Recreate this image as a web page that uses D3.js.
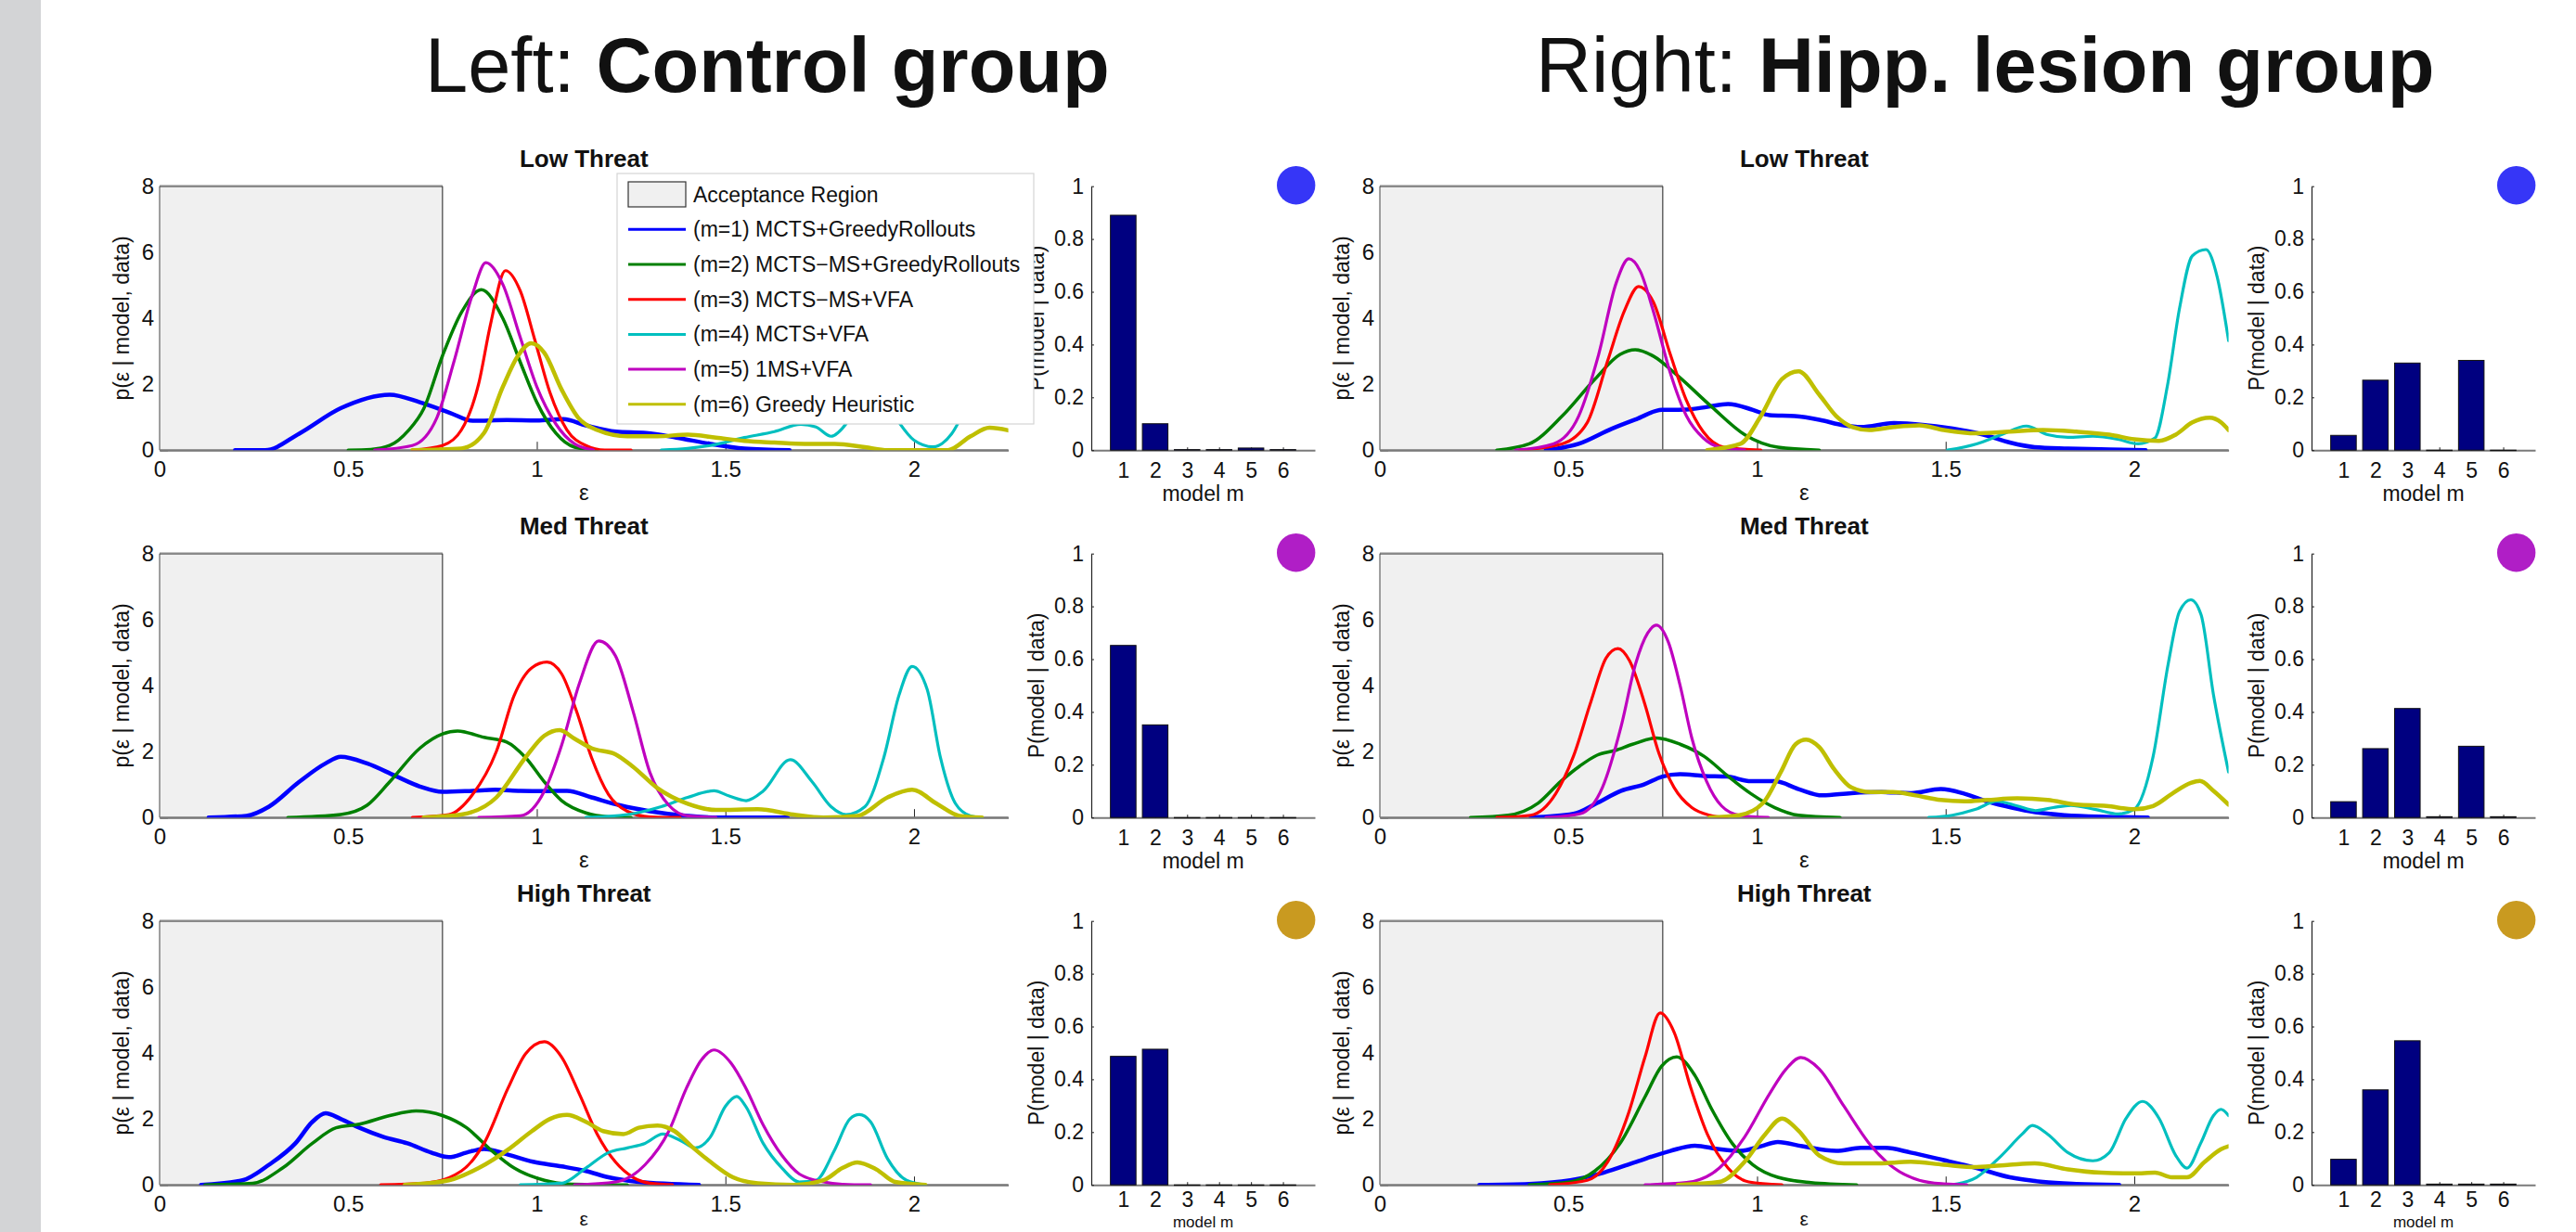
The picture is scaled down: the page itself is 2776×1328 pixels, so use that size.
<!DOCTYPE html>
<html>
<head>
<meta charset="utf-8">
<script src="https://cdn.jsdelivr.net/npm/d3@7"></script>
<style>
  body { margin: 0; background: #fff; }
  svg { display: block; }
  text { font-family: "Liberation Sans", Arial, sans-serif; fill: #111; }
</style>
</head>
<body>
<svg id="chart"></svg>
<script>
// ---- data ----
const groupNames = ["Control group", "Hipp. lesion group"];
const groupPrefix = ["Left: ", "Right: "];
const threats = ["Low Threat", "Med Threat", "High Threat"];
const modelNames = [
    "(m=1) MCTS+GreedyRollouts",
    "(m=2) MCTS\u2212MS+GreedyRollouts",
    "(m=3) MCTS\u2212MS+VFA",
    "(m=4) MCTS+VFA",
    "(m=5) 1MS+VFA",
    "(m=6) Greedy Heuristic"
];
const modelIds = [1, 2, 3, 4, 5, 6];
const epsTicks = [0, 0.5, 1, 1.5, 2];
const densTicks = [0, 2, 4, 6, 8];
const probTicks = [0, 0.2, 0.4, 0.6, 0.8, 1];
const acceptanceMax = 0.75;

// P(model | data), rows = low / med / high threat
const postControl = [
    [0.89, 0.10, 0.002, 0.002, 0.008, 0.002],
    [0.652, 0.351, 0, 0, 0, 0],
    [0.487, 0.514, 0, 0, 0, 0]
];
const postLesion = [
    [0.056, 0.265, 0.33, 0, 0.34, 0],
    [0.06, 0.261, 0.413, 0.003, 0.27, 0.003],
    [0.097, 0.36, 0.546, 0.003, 0.003, 0.003]
];

// p(eps | model, data) curves, one list of [eps, p] per model (m=1..6)
const controlLow = [
    [[0.2,0],[0.28,0],[0.37,0.5],[0.48,1.27],[0.61,1.68],[0.69,1.45],[0.77,1.13],[0.83,0.89],[0.92,0.91],[1.0,0.9],[1.07,0.94],[1.13,0.75],[1.21,0.56],[1.29,0.52],[1.37,0.38],[1.46,0.19],[1.55,0.05],[1.67,0]],
    [[0.5,0],[0.56,0.02],[0.61,0.14],[0.66,0.6],[0.7,1.25],[0.75,2.86],[0.8,4.17],[0.853,4.86],[0.91,3.99],[0.956,2.67],[1.0,1.45],[1.05,0.52],[1.1,0.09],[1.16,0]],
    [[0.67,0],[0.75,0.14],[0.8,0.61],[0.846,2.02],[0.877,3.8],[0.917,5.44],[0.956,4.83],[0.995,3.33],[1.035,1.74],[1.08,0.61],[1.13,0.14],[1.18,0],[1.25,0]],
    [[1.33,0],[1.4,0.05],[1.46,0.14],[1.55,0.38],[1.63,0.56],[1.7,0.78],[1.74,0.7],[1.78,0.42],[1.82,0.8],[1.88,2.2],[1.95,1.0],[2.0,0.3],[2.05,0.1],[2.1,0.5],[2.15,1.6],[2.2,2.8],[2.25,2.6]],
    [[0.57,0],[0.67,0.14],[0.735,0.98],[0.78,2.67],[0.83,4.74],[0.865,5.68],[0.91,5.02],[0.956,3.42],[1.0,1.92],[1.05,0.8],[1.1,0.19],[1.15,0]],
    [[0.67,0],[0.8,0.05],[0.86,0.52],[0.91,1.92],[0.95,2.86],[0.985,3.24],[1.02,2.95],[1.066,1.83],[1.11,0.98],[1.16,0.61],[1.24,0.42],[1.32,0.42],[1.4,0.47],[1.475,0.38],[1.55,0.28],[1.63,0.23],[1.71,0.19],[1.79,0.19],[1.87,0.09],[1.93,0],[2.09,0],[2.15,0.42],[2.2,0.68],[2.25,0.6]]
];
const controlMed = [
    [[0.13,0],[0.23,0.05],[0.29,0.33],[0.37,1.08],[0.44,1.64],[0.48,1.84],[0.55,1.64],[0.625,1.26],[0.69,0.94],[0.75,0.78],[0.83,0.81],[0.89,0.84],[0.956,0.81],[1.02,0.8],[1.08,0.81],[1.145,0.61],[1.22,0.37],[1.3,0.19],[1.4,0.05],[1.475,0],[1.665,0]],
    [[0.34,0],[0.48,0.09],[0.55,0.37],[0.61,1.08],[0.69,2.1],[0.75,2.53],[0.79,2.62],[0.86,2.43],[0.92,2.29],[0.97,1.82],[1.02,1.08],[1.066,0.51],[1.13,0.14],[1.19,0.02],[1.25,0]],
    [[0.67,0],[0.767,0.09],[0.83,0.7],[0.893,2.01],[0.94,3.7],[0.987,4.54],[1.027,4.71],[1.066,4.35],[1.105,3.23],[1.145,1.82],[1.19,0.7],[1.24,0.19],[1.3,0.02],[1.38,0]],
    [[1.13,0],[1.24,0.09],[1.33,0.33],[1.4,0.61],[1.47,0.81],[1.51,0.65],[1.555,0.51],[1.6,0.8],[1.672,1.75],[1.73,1.08],[1.78,0.33],[1.82,0.09],[1.87,0.33],[1.92,1.82],[1.96,3.7],[1.995,4.58],[2.035,3.88],[2.07,1.82],[2.11,0.42],[2.15,0.05],[2.18,0]],
    [[0.846,0],[0.956,0.05],[1.02,0.8],[1.066,2.2],[1.113,4.07],[1.164,5.35],[1.208,4.91],[1.255,3.23],[1.3,1.36],[1.35,0.37],[1.4,0.05],[1.475,0]],
    [[0.7,0],[0.8,0.09],[0.893,0.61],[0.97,1.82],[1.02,2.48],[1.06,2.65],[1.1,2.39],[1.145,2.1],[1.208,1.92],[1.255,1.54],[1.32,0.89],[1.4,0.42],[1.475,0.23],[1.586,0.25],[1.68,0.09],[1.76,0],[1.85,0.05],[1.93,0.61],[1.995,0.84],[2.06,0.42],[2.12,0.05],[2.18,0]]
];
const controlHigh = [
    [[0.11,0],[0.22,0.14],[0.29,0.61],[0.36,1.26],[0.405,1.91],[0.44,2.17],[0.48,2.0],[0.53,1.73],[0.594,1.45],[0.657,1.26],[0.72,0.98],[0.767,0.84],[0.814,0.98],[0.86,1.09],[0.92,0.93],[0.99,0.7],[1.066,0.56],[1.13,0.42],[1.19,0.23],[1.27,0.09],[1.43,0]],
    [[0.12,0],[0.247,0.05],[0.326,0.51],[0.405,1.26],[0.468,1.73],[0.53,1.84],[0.61,2.1],[0.68,2.24],[0.75,2.1],[0.814,1.73],[0.877,1.07],[0.94,0.51],[1.02,0.14],[1.08,0.03],[1.24,0]],
    [[0.586,0],[0.704,0.05],[0.8,0.42],[0.86,1.26],[0.924,2.94],[0.97,3.97],[1.02,4.34],[1.066,3.87],[1.113,2.75],[1.16,1.54],[1.208,0.7],[1.255,0.23],[1.3,0.05],[1.36,0]],
    [[0.956,0],[1.066,0.05],[1.13,0.51],[1.19,0.98],[1.24,1.12],[1.287,1.26],[1.334,1.54],[1.38,1.35],[1.42,1.12],[1.46,1.45],[1.5,2.38],[1.53,2.68],[1.554,2.38],[1.6,1.26],[1.65,0.51],[1.696,0.09],[1.74,0.14],[1.79,1.07],[1.83,2.0],[1.855,2.13],[1.885,1.91],[1.93,0.79],[1.98,0.14],[2.03,0]],
    [[1.1,0],[1.21,0.09],[1.287,0.61],[1.35,1.63],[1.397,2.94],[1.436,3.78],[1.47,4.09],[1.515,3.69],[1.554,2.94],[1.6,1.82],[1.65,0.89],[1.696,0.33],[1.76,0.09],[1.81,0.02],[1.885,0]],
    [[0.65,0],[0.767,0.14],[0.846,0.51],[0.924,1.07],[0.987,1.63],[1.035,2.0],[1.08,2.12],[1.13,1.91],[1.176,1.63],[1.23,1.54],[1.27,1.73],[1.32,1.8],[1.365,1.63],[1.41,1.17],[1.46,0.7],[1.52,0.23],[1.586,0.05],[1.68,0],[1.76,0.14],[1.81,0.51],[1.85,0.68],[1.9,0.47],[1.95,0.09],[2.03,0]]
];
const lesionLow = [
    [[0.44,0],[0.527,0.19],[0.615,0.65],[0.68,0.94],[0.747,1.22],[0.813,1.23],[0.868,1.31],[0.923,1.4],[0.989,1.22],[1.033,1.06],[1.1,1.03],[1.165,0.92],[1.23,0.75],[1.275,0.7],[1.363,0.82],[1.45,0.75],[1.54,0.61],[1.6,0.47],[1.67,0.23],[1.736,0.09],[1.824,0.05],[1.934,0.02],[2.03,0]],
    [[0.31,0],[0.396,0.19],[0.483,1.03],[0.57,2.15],[0.637,2.9],[0.677,3.04],[0.725,2.85],[0.79,2.25],[0.88,1.31],[0.967,0.47],[1.055,0.09],[1.165,0]],
    [[0.37,0],[0.483,0.19],[0.55,0.84],[0.604,2.71],[0.648,4.21],[0.686,4.96],[0.725,4.49],[0.77,2.9],[0.813,1.5],[0.857,0.56],[0.912,0.09],[1.01,0]],
    [[1.505,0],[1.582,0.19],[1.648,0.47],[1.714,0.73],[1.77,0.47],[1.824,0.39],[1.89,0.42],[1.956,0.33],[2.01,0.19],[2.055,0.37],[2.088,1.96],[2.12,4.3],[2.154,5.89],[2.19,6.08],[2.22,5.24],[2.25,3.32]],
    [[0.36,0],[0.46,0.19],[0.527,1.03],[0.58,2.9],[0.626,5.05],[0.66,5.8],[0.69,5.43],[0.725,4.21],[0.77,2.34],[0.813,1.03],[0.857,0.37],[0.9,0.09],[0.967,0]],
    [[0.868,0],[0.956,0.19],[1.01,1.03],[1.066,2.15],[1.11,2.39],[1.165,1.68],[1.21,1.03],[1.253,0.7],[1.297,0.61],[1.363,0.7],[1.43,0.75],[1.495,0.61],[1.58,0.51],[1.67,0.56],[1.758,0.61],[1.846,0.56],[1.934,0.47],[2.0,0.33],[2.066,0.28],[2.11,0.47],[2.154,0.84],[2.2,0.98],[2.23,0.84],[2.25,0.61]]
];
const lesionMed = [
    [[0.4,0],[0.513,0.11],[0.576,0.44],[0.64,0.81],[0.7,1.0],[0.749,1.24],[0.796,1.31],[0.86,1.26],[0.92,1.24],[0.984,1.1],[1.047,1.1],[1.11,0.86],[1.173,0.67],[1.25,0.74],[1.33,0.77],[1.408,0.74],[1.487,0.86],[1.55,0.72],[1.61,0.49],[1.675,0.3],[1.738,0.16],[1.816,0.07],[1.926,0.02],[2.036,0]],
    [[0.24,0],[0.34,0.07],[0.42,0.44],[0.48,1.1],[0.53,1.56],[0.576,1.89],[0.623,2.03],[0.67,2.22],[0.733,2.41],[0.796,2.22],[0.86,1.85],[0.92,1.28],[0.984,0.72],[1.047,0.3],[1.11,0.07],[1.22,0]],
    [[0.31,0],[0.4,0.07],[0.466,0.72],[0.513,1.85],[0.56,3.53],[0.6,4.84],[0.631,5.12],[0.662,4.75],[0.7,3.53],[0.74,1.94],[0.78,0.91],[0.827,0.3],[0.874,0.07],[0.92,0]],
    [[1.455,0],[1.518,0.07],[1.58,0.25],[1.636,0.49],[1.69,0.35],[1.738,0.21],[1.785,0.3],[1.832,0.37],[1.895,0.25],[1.958,0.11],[2.0,0.25],[2.05,1.85],[2.09,4.66],[2.12,6.25],[2.15,6.6],[2.177,6.15],[2.21,3.72],[2.25,1.38]],
    [[0.44,0],[0.53,0.11],[0.59,0.91],[0.64,2.78],[0.678,4.66],[0.71,5.59],[0.733,5.83],[0.765,5.31],[0.796,4.0],[0.827,2.41],[0.866,1.1],[0.906,0.35],[0.953,0.07],[1.03,0]],
    [[0.874,0],[0.953,0.07],[1.016,0.44],[1.063,1.38],[1.102,2.22],[1.13,2.36],[1.165,2.13],[1.204,1.47],[1.25,0.91],[1.3,0.77],[1.36,0.77],[1.42,0.67],[1.487,0.53],[1.55,0.49],[1.61,0.53],[1.69,0.58],[1.77,0.53],[1.848,0.39],[1.926,0.35],[2.0,0.25],[2.05,0.35],[2.1,0.72],[2.15,1.05],[2.174,1.11],[2.21,0.81],[2.25,0.39]]
];
const lesionHigh = [
    [[0.264,0],[0.396,0.03],[0.505,0.14],[0.593,0.37],[0.68,0.7],[0.77,1.03],[0.835,1.19],[0.9,1.08],[0.956,1.03],[1.01,1.17],[1.055,1.3],[1.12,1.17],[1.21,1.03],[1.275,1.12],[1.34,1.12],[1.407,0.98],[1.495,0.75],[1.582,0.51],[1.67,0.23],[1.758,0.09],[1.846,0.03],[1.96,0]],
    [[0.396,0],[0.505,0.09],[0.57,0.42],[0.637,1.26],[0.703,2.67],[0.747,3.6],[0.787,3.88],[0.835,3.32],[0.88,2.29],[0.934,1.26],[0.989,0.61],[1.055,0.23],[1.143,0.07],[1.264,0]],
    [[0.45,0],[0.55,0.14],[0.604,0.7],[0.66,2.2],[0.703,3.88],[0.743,5.21],[0.78,4.63],[0.824,2.95],[0.868,1.54],[0.923,0.51],[0.978,0.09],[1.066,0]],
    [[1.516,0],[1.582,0.23],[1.648,0.89],[1.703,1.54],[1.73,1.8],[1.77,1.54],[1.824,0.98],[1.89,0.73],[1.934,0.98],[1.978,2.01],[2.022,2.53],[2.066,2.01],[2.11,0.89],[2.14,0.51],[2.176,1.26],[2.21,2.1],[2.23,2.29],[2.25,2.1]],
    [[0.703,0],[0.813,0.07],[0.9,0.51],[0.967,1.45],[1.033,2.76],[1.077,3.51],[1.116,3.86],[1.165,3.51],[1.23,2.39],[1.297,1.26],[1.363,0.51],[1.43,0.14],[1.495,0.03],[1.556,0]],
    [[0.79,0],[0.9,0.09],[0.967,0.7],[1.022,1.54],[1.066,2.01],[1.11,1.64],[1.165,0.89],[1.23,0.65],[1.32,0.65],[1.407,0.7],[1.495,0.61],[1.582,0.54],[1.67,0.61],[1.736,0.65],[1.824,0.47],[1.912,0.37],[2.0,0.35],[2.055,0.37],[2.1,0.23],[2.14,0.23],[2.187,0.7],[2.23,1.08],[2.25,1.17]]
];

const densityByGroup = [
    [controlLow, controlMed, controlHigh],
    [lesionLow, lesionMed, lesionHigh]
];
const posteriorByGroup = [postControl, postLesion];

// ---- styles ----
const modelColors = ["#0000ff", "#008000", "#ff0000", "#00bfbf", "#bf00bf", "#bfbf00"];
const lineWidths = [4.5, 3.5, 3.2, 3.2, 3.2, 4.5];
const threatColors = ["#3636f7", "#b01ec6", "#c99a20"];

// ---- layout ----
const width = 2776;
const height = 1328;
const groupShift = 1315;
const rowTops = [200.7, 596.7, 992.7];
const plotH = 284.5;
const densLeft = 172;
const densW = 914.6;
const barLeft = 1176;
const barW = 241;

const svg = d3.select("#chart")
    .attr("width", width)
    .attr("height", height);

svg.append("rect")
    .attr("x", 0).attr("y", 0)
    .attr("width", 44).attr("height", height)
    .attr("fill", "#d3d4d6");

const xEps = d3.scaleLinear().domain([0, 2.25]).range([0, densW]);
const yDens = d3.scaleLinear().domain([0, 8]).range([plotH, 0]);
const xModel = d3.scaleLinear().domain([0, 7]).range([0, barW]);
const yProb = d3.scaleLinear().domain([0, 1]).range([plotH, 0]);

const line = d3.line()
    .x(d => xEps(d[0]))
    .y(d => yDens(d[1]))
    .curve(d3.curveMonotoneX);

function styleAxis(ax, fontSize) {
    ax.select(".domain").attr("stroke", "#7a7a7a").attr("stroke-width", 2);
    ax.selectAll(".tick line").attr("stroke", "#222").attr("stroke-width", 1);
    ax.selectAll(".tick text")
        .attr("fill", "#111")
        .attr("font-size", fontSize)
        .attr("font-family", "Liberation Sans, Arial, sans-serif");
}

// the last row sits right at the picture's bottom edge, so its x labels are
// pulled up a little to stay inside
function isLastRow(top) {
    return top === rowTops[rowTops.length - 1];
}
function labelY(top, offset, margin) {
    return Math.min(plotH + offset, height - margin - top);
}

function drawDensity(g, curves, title, idx, top) {
    const clipId = "clip" + idx;
    g.append("clipPath").attr("id", clipId)
        .append("rect")
        .attr("x", 0).attr("y", -4)
        .attr("width", densW).attr("height", plotH + 4);

    const xa = g.append("g")
        .attr("transform", `translate(0,${plotH})`)
        .call(d3.axisBottom(xEps).tickValues(epsTicks).tickFormat(d3.format("")).tickSizeInner(-9).tickSizeOuter(0).tickPadding(12));
    styleAxis(xa, 24);

    const ya = g.append("g")
        .call(d3.axisLeft(yDens).tickValues(densTicks).tickSizeInner(-9).tickSizeOuter(0).tickPadding(6));
    styleAxis(ya, 24);
    ya.select(".domain").attr("stroke", "#333").attr("stroke-width", 1);

    // acceptance region
    const ax0 = xEps(0), ax1 = xEps(acceptanceMax);
    g.append("rect")
        .attr("x", ax0).attr("y", yDens(8))
        .attr("width", ax1 - ax0).attr("height", yDens(0) - yDens(8))
        .attr("fill", "#f0f0f0");
    g.append("line")
        .attr("x1", ax0).attr("x2", ax1)
        .attr("y1", yDens(8)).attr("y2", yDens(8))
        .attr("stroke", "#8a8a8a").attr("stroke-width", 2.5);
    g.append("line")
        .attr("x1", ax1).attr("x2", ax1)
        .attr("y1", yDens(8)).attr("y2", yDens(0))
        .attr("stroke", "#1a1a1a").attr("stroke-width", 1);
    g.append("line")
        .attr("x1", ax0).attr("x2", ax0)
        .attr("y1", yDens(8)).attr("y2", yDens(0))
        .attr("stroke", "#444").attr("stroke-width", 1);
    g.append("line")
        .attr("x1", ax0).attr("x2", densW)
        .attr("y1", yDens(0)).attr("y2", yDens(0))
        .attr("stroke", "#7a7a7a").attr("stroke-width", 2);

    g.append("g").attr("clip-path", `url(#${clipId})`)
        .selectAll("path")
        .data(curves)
        .enter().append("path")
        .attr("d", d => line(d))
        .attr("fill", "none")
        .attr("stroke", (d, i) => modelColors[i])
        .attr("stroke-width", (d, i) => lineWidths[i])
        .attr("stroke-linejoin", "round")
        .attr("stroke-linecap", "round");

    g.append("text")
        .attr("x", densW / 2).attr("y", -21)
        .attr("text-anchor", "middle")
        .attr("font-size", 26).attr("font-weight", "bold")
        .text(title);

    g.append("text")
        .attr("x", densW / 2).attr("y", labelY(top, 54, 7))
        .attr("text-anchor", "middle")
        .attr("font-size", isLastRow(top) ? 21 : 24)
        .text("\u03b5");

    g.append("text")
        .attr("transform", `translate(-41,${plotH / 2}) rotate(-90)`)
        .attr("text-anchor", "middle")
        .attr("dy", "0.35em")
        .attr("font-size", 23)
        .text("p(\u03b5 | model, data)");
}

function drawBars(g, values, row, top) {
    const last = isLastRow(top);
    const xa = g.append("g")
        .attr("transform", `translate(0,${plotH})`)
        .call(d3.axisBottom(xModel).tickValues(modelIds).tickFormat(d3.format("d")).tickSizeInner(-3).tickSizeOuter(0).tickPadding(last ? 7 : 13));
    styleAxis(xa, 23);

    const ya = g.append("g")
        .call(d3.axisLeft(yProb).tickValues(probTicks).tickFormat(d3.format("")).tickSizeInner(-3).tickSizeOuter(0).tickPadding(8));
    styleAxis(ya, 23);
    ya.select(".domain").attr("stroke", "#222").attr("stroke-width", 1.2);

    const bw = xModel(0.8) - xModel(0);
    g.selectAll(".bar")
        .data(values)
        .enter().append("rect")
        .attr("class", "bar")
        .attr("x", (d, i) => xModel(modelIds[i]) - bw / 2)
        .attr("y", d => yProb(d))
        .attr("width", bw)
        .attr("height", d => Math.max(0.5, yProb(0) - yProb(d)))
        .attr("fill", "#000080")
        .attr("stroke", "#111")
        .attr("stroke-width", 1);

    g.append("text")
        .attr("x", xModel(3.5)).attr("y", labelY(top, 55, 5))
        .attr("text-anchor", "middle")
        .attr("font-size", last ? 17 : 23)
        .text("model m");

    g.append("text")
        .attr("transform", `translate(-59,${plotH / 2}) rotate(-90)`)
        .attr("text-anchor", "middle")
        .attr("dy", "0.35em")
        .attr("font-size", 23)
        .text("P(model | data)");

    g.append("circle")
        .attr("cx", 220.7).attr("cy", -1)
        .attr("r", 20.7)
        .attr("fill", threatColors[row]);
}

groupNames.forEach((name, gi) => {
    const shift = gi * groupShift;
    rowTops.forEach((top, ri) => {
        const dg = svg.append("g").attr("transform", `translate(${densLeft + shift},${top})`);
        drawDensity(dg, densityByGroup[gi][ri], threats[ri], gi * 3 + ri, top);
        const bg = svg.append("g").attr("transform", `translate(${barLeft + shift},${top})`);
        drawBars(bg, posteriorByGroup[gi][ri], ri, top);
    });
});

// legend (sits over the first control panel)
const legend = svg.append("g").attr("transform", "translate(665,187)");
legend.append("rect")
    .attr("width", 449).attr("height", 270)
    .attr("fill", "#fff")
    .attr("stroke", "#d4d4d4").attr("stroke-width", 1.2);
legend.append("rect")
    .attr("x", 12).attr("y", 9)
    .attr("width", 62).attr("height", 27)
    .attr("fill", "#f0f0f0")
    .attr("stroke", "#333").attr("stroke-width", 1.2);
legend.append("text")
    .attr("x", 82).attr("y", 23).attr("dy", "0.35em")
    .attr("font-size", 23)
    .text("Acceptance Region");
const rows = legend.selectAll(".entry")
    .data(modelNames)
    .enter().append("g")
    .attr("class", "entry")
    .attr("transform", (d, i) => `translate(0,${60.3 + i * 37.7})`);
rows.append("line")
    .attr("x1", 12).attr("x2", 74)
    .attr("stroke", (d, i) => modelColors[i])
    .attr("stroke-width", 3);
rows.append("text")
    .attr("x", 82).attr("dy", "0.35em")
    .attr("font-size", 23)
    .text(d => d);

// group headings
const heads = [[458, 99], [1655, 99]];
groupNames.forEach((name, gi) => {
    const t = svg.append("text")
        .attr("x", heads[gi][0]).attr("y", heads[gi][1])
        .attr("font-family", "Lato, 'Open Sans', sans-serif")
        .attr("font-size", 83)
        .attr("fill", "#1a1a1a");
    t.append("tspan").attr("font-weight", 400).text(groupPrefix[gi]);
    t.append("tspan").attr("font-weight", 700).text(name);
});
</script>
</body>
</html>
